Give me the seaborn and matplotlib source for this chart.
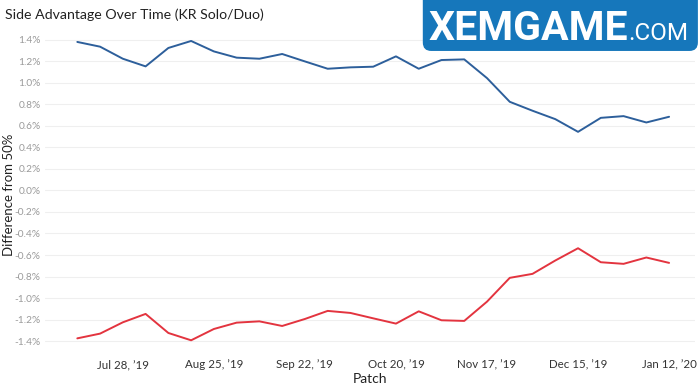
import matplotlib
matplotlib.use("Agg")
import matplotlib.pyplot as plt
from matplotlib.patches import FancyBboxPatch
import pandas as pd
import seaborn as sns

# weekly patches, Jul 14 2019 .. Jan 12 2020
dates = pd.date_range("2019-07-14", "2020-01-12", freq="7D")

blue_side = [1.379, 1.335, 1.223, 1.152, 1.323, 1.388, 1.291, 1.233, 1.223, 1.267,
             1.198, 1.130, 1.143, 1.149, 1.245, 1.130, 1.211, 1.217, 1.043, 0.823,
             0.740, 0.662, 0.544, 0.674, 0.690, 0.631, 0.684]
red_side = [-1.374, -1.330, -1.225, -1.147, -1.324, -1.392, -1.287, -1.228, -1.216, -1.259,
            -1.194, -1.119, -1.138, -1.188, -1.237, -1.123, -1.206, -1.212, -1.033, -0.812,
            -0.775, -0.651, -0.537, -0.667, -0.682, -0.623, -0.673]

tick_dates = pd.to_datetime(["2019-07-28", "2019-08-25", "2019-09-22", "2019-10-20",
                             "2019-11-17", "2019-12-15", "2020-01-12"])
tick_labels = ["Jul 28, \u201919", "Aug 25, \u201919", "Sep 22, \u201919", "Oct 20, \u201919",
               "Nov 17, \u201919", "Dec 15, \u201919", "Jan 12, \u201920"]
y_ticks = [-1.4, -1.2, -1.0, -0.8, -0.6, -0.4, -0.2, 0.0, 0.2, 0.4, 0.6, 0.8, 1.0, 1.2, 1.4]

df = pd.DataFrame({"Patch": list(dates) * 2,
                   "Diff": blue_side + red_side,
                   "Side": ["Blue"] * len(dates) + ["Red"] * len(dates)})

sns.set_style("white")
plt.rcParams['font.family'] = ['Lato', 'DejaVu Sans']

fig = plt.figure(figsize=(7, 3.92), dpi=100)
ax = fig.add_axes([0.064, 0.094, 0.929, 0.835])

sns.lineplot(data=df, x="Patch", y="Diff", hue="Side",
             palette={"Blue": "#2d5f9b", "Red": "#e3343f"},
             linewidth=1.4, legend=False, ax=ax)

ax.set_ylim(-1.53, 1.51)
ax.set_xlim(pd.Timestamp("2019-07-04"), pd.Timestamp("2020-01-20"))
ax.set_yticks(y_ticks)
ax.set_yticklabels([f"{v:.1f}%" for v in y_ticks], color="#9a9a9a", fontsize=7.3)
ax.set_xticks(tick_dates)
ax.set_xticklabels(tick_labels, color="#333333", fontsize=8.3)
ax.tick_params(axis="both", length=0, pad=3)
ax.grid(axis="y", color="#efefef", linewidth=0.8)
ax.grid(axis="x", visible=False)
for s in ax.spines.values():
    s.set_visible(False)

ax.set_xlabel("Patch", fontsize=10, color="#222222", labelpad=2)
ax.set_ylabel("Difference from 50%", fontsize=9.5, color="#222222")
ax.yaxis.set_label_coords(-0.046, 0.49)

fig.text(0.007, 0.963, "Side Advantage Over Time (KR Solo/Duo)", fontsize=10.2,
         color="#222222", va="center", ha="left")

# watermark logo
logo = FancyBboxPatch((0.604, 0.870), 0.393, 0.16, boxstyle="round,pad=0,rounding_size=0.012",
                      transform=fig.transFigure, facecolor="#1677bb", edgecolor="none",
                      mutation_aspect=1.8)
fig.patches.append(logo)
fig.text(0.612, 0.898, "XEMGAME", fontsize=29.5, fontweight="bold", color="white",
         va="baseline", ha="left", family=["Roboto", "DejaVu Sans"])
fig.text(0.898, 0.898, ".COM", fontsize=17.5, color="white",
         va="baseline", ha="left", family=["Roboto", "DejaVu Sans"])

fig.savefig("out.png", dpi=100)
